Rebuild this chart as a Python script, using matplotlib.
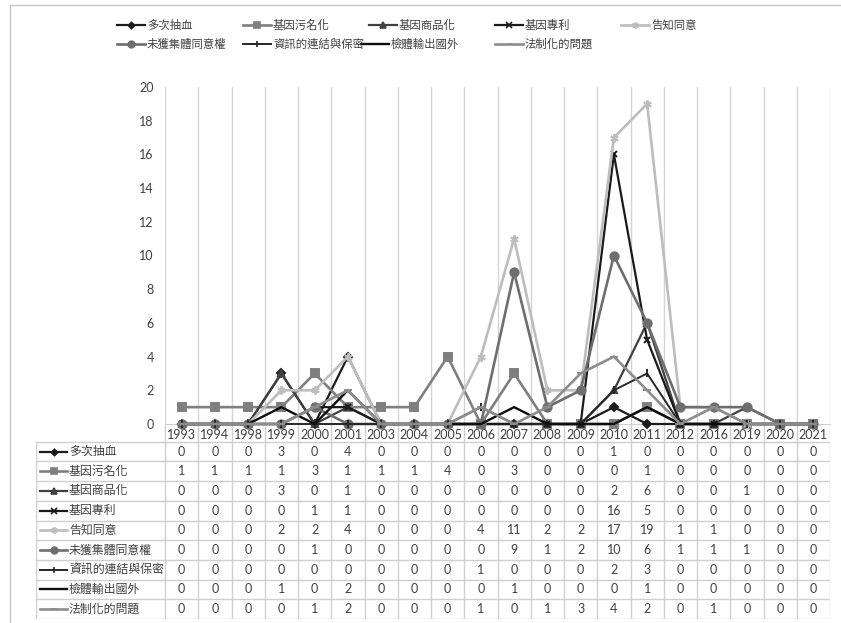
import numpy as np
import matplotlib
matplotlib.use("Agg")
import matplotlib.pyplot as plt

plt.rcParams['font.family'] = ['Noto Sans CJK TC', 'DejaVu Sans']
NUM_FONT = ['Lato', 'DejaVu Sans']

years = ["1993", "1994", "1998", "1999", "2000", "2001", "2003", "2004", "2005", "2006",
         "2007", "2008", "2009", "2010", "2011", "2012", "2016", "2019", "2020", "2021"]
names = ["多次抽血", "基因污名化", "基因商品化", "基因專利", "告知同意",
         "未獲集體同意權", "資訊的連結與保密", "檢體輸出國外", "法制化的問題"]
multi_blood = [0, 0, 0, 3, 0, 4, 0, 0, 0, 0, 0, 0, 0, 1, 0, 0, 0, 0, 0, 0]
stigma = [1, 1, 1, 1, 3, 1, 1, 1, 4, 0, 3, 0, 0, 0, 1, 0, 0, 0, 0, 0]
commodify = [0, 0, 0, 3, 0, 1, 0, 0, 0, 0, 0, 0, 0, 2, 6, 0, 0, 1, 0, 0]
patent = [0, 0, 0, 0, 1, 1, 0, 0, 0, 0, 0, 0, 0, 16, 5, 0, 0, 0, 0, 0]
informed = [0, 0, 0, 2, 2, 4, 0, 0, 0, 4, 11, 2, 2, 17, 19, 1, 1, 0, 0, 0]
collective = [0, 0, 0, 0, 1, 0, 0, 0, 0, 0, 9, 1, 2, 10, 6, 1, 1, 1, 0, 0]
privacy = [0, 0, 0, 0, 0, 0, 0, 0, 0, 1, 0, 0, 0, 2, 3, 0, 0, 0, 0, 0]
export = [0, 0, 0, 1, 0, 2, 0, 0, 0, 0, 1, 0, 0, 0, 1, 0, 0, 0, 0, 0]
legal = [0, 0, 0, 0, 1, 2, 0, 0, 0, 1, 0, 1, 3, 4, 2, 0, 1, 0, 0, 0]
series = [multi_blood, stigma, commodify, patent, informed, collective, privacy, export, legal]

# styles: color, marker, markersize, linewidth
styles = [
    ("#1c1c1c", "D", 4, 1.6),
    ("#7f7f7f", "s", 5.5, 1.9),
    ("#404040", "^", 5, 1.6),
    ("#1a1a1a", "x", 5, 1.6),
    ("#bdbdbd", (6, 2, 0), 6, 1.9),
    ("#6e6e6e", "o", 6, 1.9),
    ("#262626", "|", 6, 1.4),
    ("#0d0d0d", None, 0, 1.7),
    ("#8c8c8c", "_", 6, 1.9),
]

W, H = 841, 623
fig = plt.figure(figsize=(W / 100, H / 100), dpi=100)

# overlay for border and legend
ov = fig.add_axes([0, 0, 1, 1], zorder=0)
ov.set_xlim(0, W)
ov.set_ylim(H, 0)
ov.axis("off")
ov.plot([10, W], [5, 5], color="#c8c8c8", lw=1)
ov.plot([10, 10], [5, H], color="#c8c8c8", lw=1)

leg_pos = [(117, 25), (243, 25), (369, 25), (495, 25), (621, 25),
           (117, 44), (243, 44), (361, 44), (495, 44)]
for (x0, y0), name, (c, m, ms, lw) in zip(leg_pos, names, styles):
    ov.plot([x0, x0 + 14, x0 + 28], [y0, y0, y0], color=c, lw=lw,
            marker=m, markersize=ms * 0.8, markevery=[1], markeredgewidth=1.2)
    ov.text(x0 + 30, y0, name, fontsize=8.2, color="#404040", va="center", ha="left")

# main chart
ax = fig.add_axes([165 / W, 1 - 424 / H, (830 - 165) / W, (424 - 87) / H], zorder=2)
ax.patch.set_alpha(0)
x = np.arange(len(years))
for vals, (c, m, ms, lw) in zip(series, styles):
    ax.plot(x, vals, color=c, lw=lw, marker=m, markersize=ms,
            markeredgewidth=1.4, clip_on=False, zorder=3)
ax.set_xlim(-0.5, len(years) - 0.5)
ax.set_ylim(0, 20)
ax.set_yticks(range(0, 21, 2))
ax.set_xticks([])
ax.set_xticks(np.arange(-0.5, len(years), 1), minor=True)
ax.grid(which="minor", axis="x", color="#d4d4d4", lw=1)
ax.tick_params(axis="y", length=0, pad=8, labelsize=9, labelcolor="#404040")
for lab in ax.get_yticklabels():
    lab.set_family(NUM_FONT)
ax.tick_params(axis="x", which="both", length=0)
for s in ["top", "right", "left"]:
    ax.spines[s].set_visible(False)
ax.spines["bottom"].set_color("#cfcfcf")

# data table below the chart
tb = fig.add_axes([36 / W, 1 - 619 / H, (830 - 36) / W, (619 - 424) / H], zorder=1)
lab_w = (165 - 36) / 33.25
left = -0.5 - lab_w
tb.set_xlim(left, len(years) - 0.5)
tb.set_ylim(len(names), -0.9)
tb.axis("off")
lc = "#cfcfcf"
for k in range(len(years) + 1):
    tb.plot([k - 0.5, k - 0.5], [-0.9, len(names)], color=lc, lw=1)
tb.plot([left, left], [0, len(names)], color=lc, lw=1)
for r in range(len(names) + 1):
    tb.plot([left, len(years) - 0.5], [r, r], color=lc, lw=1)
for i, yr in enumerate(years):
    tb.text(i, -0.36, yr, ha="center", va="center", fontsize=9, color="#404040",
            family=NUM_FONT)
for r, (name, vals, (c, m, ms, lw)) in enumerate(zip(names, series, styles)):
    yy = r + 0.5
    hx0 = left + 4 / 33.25
    hx1 = left + 31 / 33.25
    tb.plot([hx0, (hx0 + hx1) / 2, hx1], [yy] * 3, color=c, lw=lw, marker=m,
            markersize=ms * 0.8, markevery=[1], markeredgewidth=1.2)
    tb.text(left + 33 / 33.25, yy, name, ha="left", va="center", fontsize=8.6, color="#404040")
    for i, v in enumerate(vals):
        tb.text(i, yy, str(v), ha="center", va="center", fontsize=9, color="#404040",
                family=NUM_FONT)

fig.savefig("out.png", dpi=100)
